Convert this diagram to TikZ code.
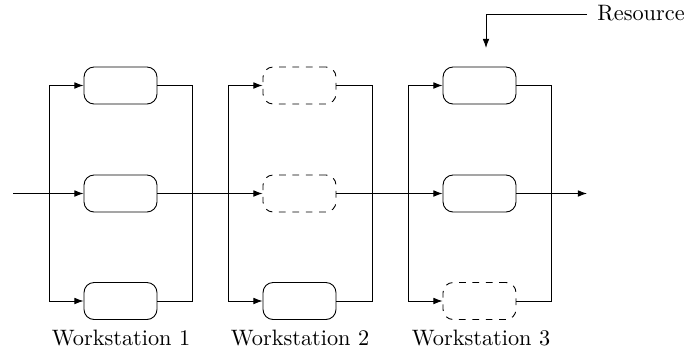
\documentclass[tikz,border=0pt]{standalone}
\usetikzlibrary{arrows.meta}
\begin{document}
\begin{tikzpicture}[x=0.4484pt,y=-0.4484pt,
  wbox/.style={draw,rounded corners=4.5pt,minimum width=32.7pt,minimum height=16.6pt,inner sep=0pt},
  dbox/.style={wbox,dashed},
  arr/.style={-{Latex[length=4.1pt,width=3pt]}},
  lbl/.style={anchor=base,inner sep=0pt}]
\useasboundingbox (0,0) rectangle (689,351);
% boxes
\node[wbox] (b11) at (120.5,85.5) {};
\node[wbox] (b12) at (120.5,193.5) {};
\node[wbox] (b13) at (120.5,301) {};
\node[dbox] (b21) at (299.5,85.5) {};
\node[dbox] (b22) at (299.5,193.5) {};
\node[wbox] (b23) at (299.5,301) {};
\node[wbox] (b31) at (479.5,85.5) {};
\node[wbox] (b32) at (479.5,193.5) {};
\node[dbox] (b33) at (479.5,301) {};
% bus coordinates
\coordinate (l1t) at (49,85.5);  \coordinate (l1b) at (49,301);
\coordinate (r1t) at (192,85.5); \coordinate (r1b) at (192,301);
\coordinate (l2t) at (228,85.5); \coordinate (l2b) at (228,301);
\coordinate (r2t) at (372,85.5); \coordinate (r2b) at (372,301);
\coordinate (l3t) at (408,85.5); \coordinate (l3b) at (408,301);
\coordinate (r3t) at (551,85.5); \coordinate (r3b) at (551,301);
\coordinate (in) at (13,193.5);
\coordinate (out) at (587,193.5);
% workstation buses
\foreach \i in {1,2,3}{
  \draw (l\i t) -- (l\i b);
  \draw[arr] (l\i t) -- (b\i 1.west);
  \draw[arr] (l\i b) -- (b\i 3.west);
  \draw (b\i 1.east) -- (r\i t) -- (r\i b) -- (b\i 3.east);
}
% main line
\draw[arr] (in) -- (b12.west);
\draw[arr] (b12.east) -- (b22.west);
\draw[arr] (b22.east) -- (b32.west);
\draw[arr] (b32.east) -- (out);
% resource
\node[anchor=base west,inner sep=0pt] (res) at (597,20) {Resource};
\coordinate (rs) at (587,14);
\coordinate (rd) at (486,48);
\draw[arr] (rs) -| (rd);
% labels
\node[lbl] (w1) at (121,345) {Workstation 1};
\node[lbl] (w2) at (300,345) {Workstation 2};
\node[lbl] (w3) at (481,345) {Workstation 3};
\end{tikzpicture}
\end{document}
